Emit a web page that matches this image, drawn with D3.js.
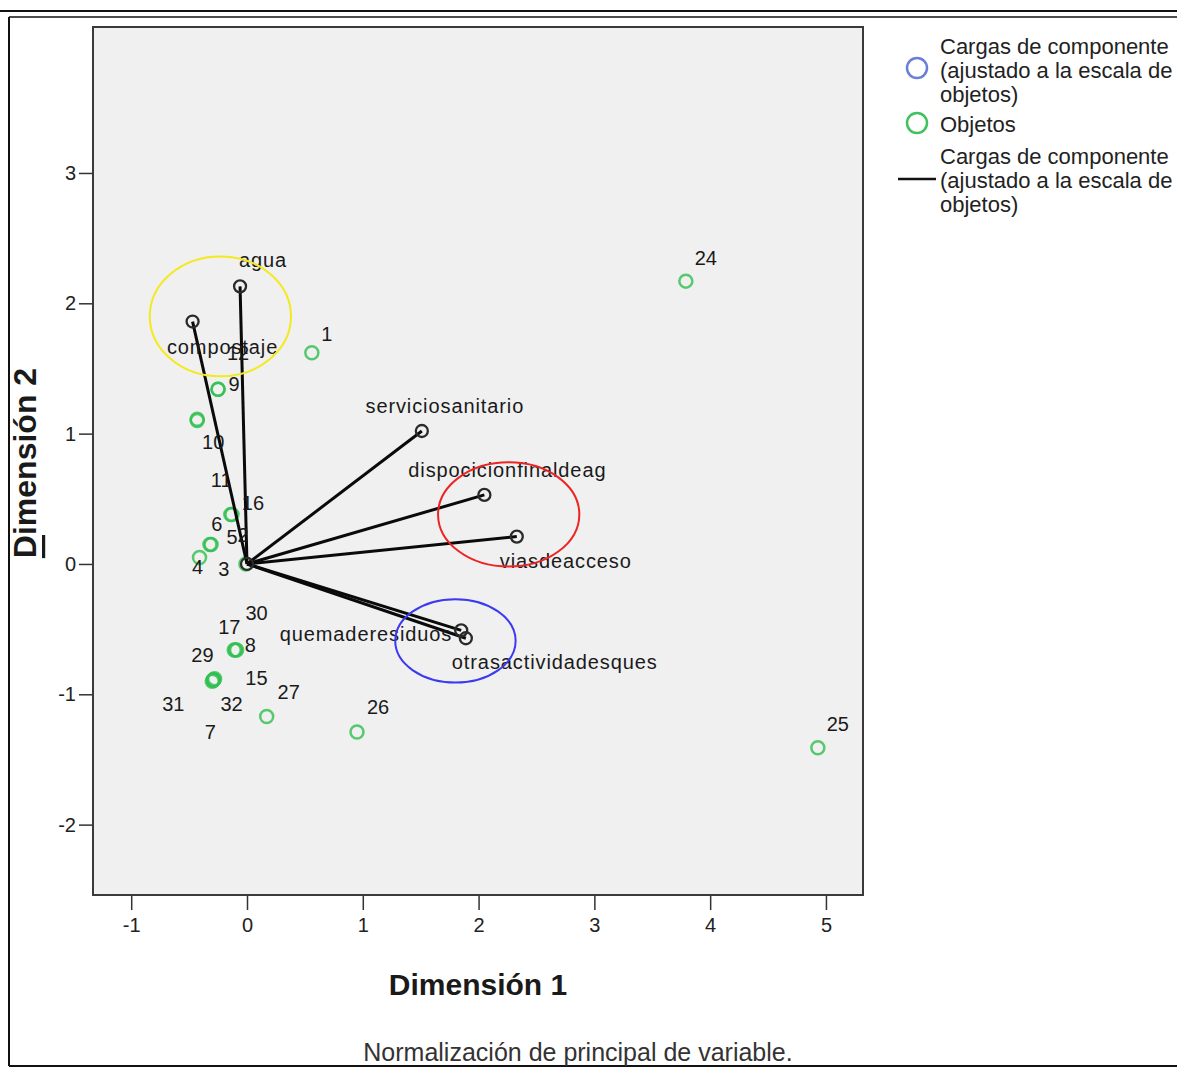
<!DOCTYPE html>
<html>
<head>
<meta charset="utf-8">
<script src="https://cdn.jsdelivr.net/npm/d3@7"></script>
<style>
	body { margin: 0; background: #fff; }
	text { font-family: "Liberation Sans", Arial, sans-serif; fill: #1a1a1a; }
	.narrow { font-family: "Liberation Sans Narrow", "Liberation Sans", Arial, sans-serif; }
</style>
</head>
<body>
<script>

// component loadings (variables)
var loadingNames = ['agua', 'compostaje', 'serviciosanitario', 'dispocicionfinaldeag', 'viasdeacceso', 'quemaderesiduos', 'otrasactividadesques'];
var loadingDim1 = [-0.06, -0.47, 1.51, 2.05, 2.33, 1.85, 1.89];
var loadingDim2 = [2.13, 1.86, 1.02, 0.53, 0.21, -0.51, -0.57];

// objects (cases)
var objectIds = [24, 25, 1, 26, 27, 8, 17, 30, 29, 31, 32, 7, 15, 9, 12, 10, 11, 16, 6, 5, 2, 4, 3];
var objectDim1 = [3.79, 4.93, 0.56, 0.95, 0.17, -0.10, -0.11, -0.09, -0.29, -0.30, -0.28, -0.29, -0.29, -0.25, -0.25, -0.43, -0.43, -0.13, -0.14, -0.31, -0.32, -0.41, -0.01];
var objectDim2 = [2.17, -1.41, 1.62, -1.29, -1.17, -0.66, -0.66, -0.66, -0.89, -0.90, -0.88, -0.89, -0.89, 1.34, 1.34, 1.11, 1.10, 0.38, 0.38, 0.15, 0.15, 0.05, 0.00];

// hand-drawn highlight ellipses (centre dim1, dim2, radius dim1, radius dim2)
var highlightColors = ['#f2ea1c', '#ee2424', '#3a3af0'];
var highlightDim1 = [-0.23, 2.26, 1.80];
var highlightDim2 = [1.90, 0.38, -0.59];
var highlightR1 = [0.61, 0.61, 0.52];
var highlightR2 = [0.46, 0.40, 0.32];

var xTicks = [-1, 0, 1, 2, 3, 4, 5];
var yTicks = [-2, -1, 0, 1, 2, 3];

// label nudges in pixels (layout only)
var objectLabelOffset = {
	24: [20, -23], 25: [20, -24], 1: [15, -19], 26: [21, -25], 27: [22, -24],
	8: [15, -5], 17: [-5, -23], 30: [20, -37],
	29: [-11, -25], 31: [-39, 23], 32: [17, 25], 7: [-3, 52], 15: [43, -2],
	9: [16, -5], 12: [20, -36], 10: [16, 23], 11: [24, 59],
	16: [21, -11], 6: [-14, 10], 5: [21, -7], 2: [33, -9], 4: [-2, 10], 3: [-22, 5]
};
var loadingLabelOffset = {
	agua: [23, -26, 'middle'], compostaje: [30, 25, 'middle'], serviciosanitario: [23, -25, 'middle'],
	dispocicionfinaldeag: [23, -25, 'middle'], viasdeacceso: [-17, 24, 'start'],
	quemaderesiduos: [-9, 4, 'end'], otrasactividadesques: [-14, 24, 'start']
};

var width = 1177;
var height = 1069;
var plot = {left: 93, right: 863, top: 27, bottom: 895};

var svg = d3.select('body')
	.append('svg')
		.attr('width', width)
		.attr('height', height);

var x = d3.scaleLinear().domain([-1.33, 5.32]).range([plot.left, plot.right]);
var y = d3.scaleLinear().domain([-2.54, 4.12]).range([plot.bottom, plot.top]);

// outer frame
svg.append('line').attr('x1', 0).attr('x2', width).attr('y1', 11).attr('y2', 11).style('stroke', '#111').style('stroke-width', 2);
svg.append('line').attr('x1', 9).attr('x2', width).attr('y1', 17).attr('y2', 17).style('stroke', '#111').style('stroke-width', 1.5);
svg.append('line').attr('x1', 9).attr('x2', 9).attr('y1', 17).attr('y2', 1066).style('stroke', '#111').style('stroke-width', 2);
svg.append('line').attr('x1', 9).attr('x2', width).attr('y1', 1066).attr('y2', 1066).style('stroke', '#111').style('stroke-width', 2);

// plot area
svg.append('rect')
	.attr('x', plot.left)
	.attr('y', plot.top)
	.attr('width', plot.right - plot.left)
	.attr('height', plot.bottom - plot.top)
	.style('fill', '#f0f0f0')
	.style('stroke', '#3a3a3a')
	.style('stroke-width', 2);

// axes
var tickText = function(d) { return String(d); };
var xAxis = svg.append('g')
	.attr('transform', 'translate(0,' + (plot.bottom + 1) + ')')
	.call(d3.axisBottom(x).tickValues(xTicks).tickSize(14).tickPadding(8).tickFormat(tickText));
var yAxis = svg.append('g')
	.attr('transform', 'translate(' + (plot.left - 1) + ',0)')
	.call(d3.axisLeft(y).tickValues(yTicks).tickSize(13).tickPadding(3).tickFormat(tickText));

[xAxis, yAxis].forEach(function(a) {
	a.select('.domain').remove();
	a.selectAll('line').style('stroke', '#333').style('stroke-width', 1.5);
	a.selectAll('text')
		.attr('class', 'narrow')
		.style('font-size', '20px')
		.style('fill', '#222');
});

// objects
var objects = objectIds.map(function(id, i) {
	return {id: id, d1: objectDim1[i], d2: objectDim2[i]};
});

svg.selectAll('circle.obj')
	.data(objects)
	.enter()
	.append('circle')
		.attr('class', 'obj')
		.attr('cx', function(d) { return x(d.d1); })
		.attr('cy', function(d) { return y(d.d2); })
		.attr('r', 6.5)
		.style('fill', 'none')
		.style('stroke', '#2fbf4f')
		.style('stroke-opacity', 0.8)
		.style('stroke-width', 2.5);

// loadings
var loadings = loadingNames.map(function(n, i) {
	return {name: n, d1: loadingDim1[i], d2: loadingDim2[i]};
});

svg.selectAll('line.load')
	.data(loadings)
	.enter()
	.append('line')
		.attr('class', 'load')
		.attr('x1', x(0))
		.attr('y1', y(0))
		.attr('x2', function(d) { return x(d.d1); })
		.attr('y2', function(d) { return y(d.d2); })
		.style('stroke', '#0a0a0a')
		.style('stroke-width', 3);

svg.selectAll('circle.load')
	.data(loadings.concat([{name: 'origen', d1: 0, d2: 0}]))
	.enter()
	.append('circle')
		.attr('class', 'load')
		.attr('cx', function(d) { return x(d.d1); })
		.attr('cy', function(d) { return y(d.d2); })
		.attr('r', 6)
		.style('fill', 'none')
		.style('stroke', '#2a2a2a')
		.style('stroke-width', 2.3);

// labels
svg.selectAll('text.objlab')
	.data(objects)
	.enter()
	.append('text')
		.attr('class', 'objlab')
		.attr('x', function(d) { return x(d.d1) + objectLabelOffset[d.id][0]; })
		.attr('y', function(d) { return y(d.d2) + objectLabelOffset[d.id][1]; })
		.attr('text-anchor', 'middle')
		.attr('dominant-baseline', 'central')
		.style('font-size', '20px')
		.text(function(d) { return d.id; });

svg.selectAll('text.loadlab')
	.data(loadings)
	.enter()
	.append('text')
		.attr('class', 'loadlab')
		.attr('x', function(d) { return x(d.d1) + loadingLabelOffset[d.name][0]; })
		.attr('y', function(d) { return y(d.d2) + loadingLabelOffset[d.name][1]; })
		.attr('text-anchor', function(d) { return loadingLabelOffset[d.name][2]; })
		.attr('dominant-baseline', 'central')
		.style('font-size', '20px')
		.style('letter-spacing', '0.9px')
		.text(function(d) { return d.name; });

// highlight ellipses
highlightColors.forEach(function(c, i) {
	svg.append('ellipse')
		.attr('cx', x(highlightDim1[i]))
		.attr('cy', y(highlightDim2[i]))
		.attr('rx', x(highlightR1[i]) - x(0))
		.attr('ry', y(0) - y(highlightR2[i]))
		.style('fill', 'none')
		.style('stroke', c)
		.style('stroke-width', 2);
});

// axis titles
svg.append('text')
	.attr('x', 478)
	.attr('y', 984)
	.attr('text-anchor', 'middle')
	.attr('dominant-baseline', 'central')
	.style('font-size', '30px')
	.style('font-weight', 'bold')
	.text('Dimensión 1');

var yTitle = svg.append('text')
	.attr('transform', 'translate(25,463) rotate(-90)')
	.attr('text-anchor', 'middle')
	.attr('dominant-baseline', 'central')
	.style('font-size', '32px')
	.style('font-weight', 'bold');
yTitle.append('tspan').style('text-decoration', 'underline').text('D');
yTitle.append('tspan').text('imensión 2');

svg.append('text')
	.attr('x', 578)
	.attr('y', 1052)
	.attr('text-anchor', 'middle')
	.attr('dominant-baseline', 'central')
	.style('font-size', '25px')
	.style('fill', '#333')
	.text('Normalización de principal de variable.');

// legend
var legendFont = '22px';
var legendText = [
	{y: 46, t: 'Cargas de componente'},
	{y: 70, t: '(ajustado a la escala de'},
	{y: 94, t: 'objetos)'},
	{y: 124, t: 'Objetos'},
	{y: 156, t: 'Cargas de componente'},
	{y: 180, t: '(ajustado a la escala de'},
	{y: 204, t: 'objetos)'}
];
svg.selectAll('text.leg')
	.data(legendText)
	.enter()
	.append('text')
		.attr('class', 'leg')
		.attr('x', 940)
		.attr('y', function(d) { return d.y; })
		.attr('dominant-baseline', 'central')
		.style('font-size', legendFont)
		.style('fill', '#222')
		.text(function(d) { return d.t; });

svg.append('circle').attr('cx', 917).attr('cy', 68).attr('r', 10)
	.style('fill', 'none').style('stroke', '#6c7fd8').style('stroke-width', 2.5);
svg.append('circle').attr('cx', 917).attr('cy', 123).attr('r', 10)
	.style('fill', 'none').style('stroke', '#3fc25c').style('stroke-width', 2.5);
svg.append('line').attr('x1', 898).attr('x2', 936).attr('y1', 179).attr('y2', 179)
	.style('stroke', '#111').style('stroke-width', 2.5);

</script>
</body>
</html>
